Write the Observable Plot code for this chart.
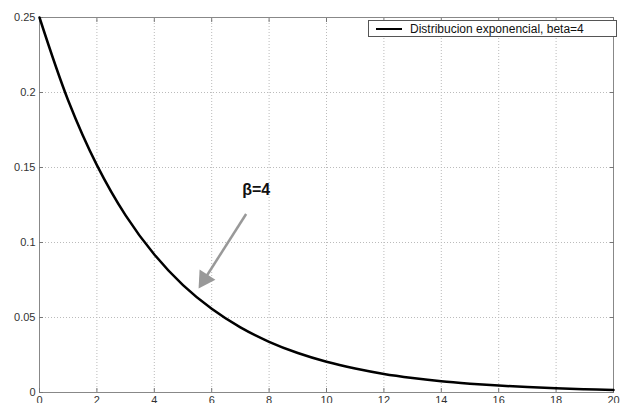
<!DOCTYPE html>
<html><head><meta charset="utf-8">
<script src="https://cdn.jsdelivr.net/npm/d3@7"></script>
<script src="https://cdn.jsdelivr.net/npm/@observablehq/plot@0.6"></script>
<style>
body{margin:0;background:#fff;}
#wrap{position:relative;width:621px;height:403px;overflow:hidden;font-family:"Liberation Sans",Arial,sans-serif;}
#legend{position:absolute;left:368px;top:20px;width:247px;height:15px;border:1px solid #555;background:#fff;font-size:12px;color:#111;display:flex;align-items:center;}
#legend .sw{width:26px;height:0;border-top:2px solid #000;margin:0 8px 0 7px;}
</style></head>
<body><div id="wrap"><div id="legend"><span class="sw"></span><span>Distribucion exponencial, beta=4</span></div></div>
<script>
const xs = [0,1,2,3,4,5,6,7,8,9,10,11,12,13,14,15,16,17,18,19,20];
const density = [0.25,0.1947,0.1516,0.1181,0.092,0.0716,0.0558,0.0434,0.0338,0.0263,0.0205,0.016,0.0124,0.0097,0.0075,0.0059,0.0046,0.0036,0.0028,0.0022,0.0017];
const xTicks = [0,2,4,6,8,10,12,14,16,18,20];
const yTicks = [0,0.05,0.1,0.15,0.2,0.25];
const yTickLabels = ["0","0.05","0.1","0.15","0.2","0.25"];
const annText = ["β=4"];
const annPos = [[7.55,0.135]];
const arrowFrom = [7.2,0.119];
const arrowHeadAt = [5.75,0.0755];
const arrowTip = [5.5,0.069];

const data = xs.map((x,i)=>({x, y: density[i]}));
const chart = Plot.plot({
  width: 621, height: 403,
  marginLeft: 39, marginRight: 8, marginTop: 17, marginBottom: 11,
  style: {fontFamily: '"Liberation Sans", Arial, sans-serif', fontSize: "11px", color: "#222", background: "#fff", overflow: "visible"},
  x: {domain: [0,20], ticks: xTicks, label: null},
  y: {domain: [0,0.25], ticks: yTicks, label: null, tickFormat: d => yTickLabels[yTicks.indexOf(d)] ?? d},
  marks: [
    Plot.gridX(xTicks, {stroke: "#bbb", strokeOpacity: 1, strokeDasharray: "1,2"}),
    Plot.gridY(yTicks, {stroke: "#bbb", strokeOpacity: 1, strokeDasharray: "1,2"}),
    Plot.frame({stroke: "#888"}),
    Plot.axisX(xTicks, {anchor: "bottom", tickSize: -4, stroke: "#777", tickPadding: 8, fontSize: 11, fill: "#333"}),
    Plot.axisX(xTicks, {anchor: "top", tickSize: -4, stroke: "#777", label: null, tickFormat: () => ""}),
    Plot.axisY(yTicks, {anchor: "left", tickSize: -4, stroke: "#777", tickPadding: 8, fontSize: 11, fill: "#333", tickFormat: d => yTickLabels[yTicks.indexOf(d)]}),
    Plot.axisY(yTicks, {anchor: "right", tickSize: -4, stroke: "#777", label: null, tickFormat: () => ""}),
    Plot.line(data, {x: "x", y: "y", stroke: "#000", strokeWidth: 2.5, curve: "catmull-rom"}),
    Plot.link([{x1: arrowFrom[0], y1: arrowFrom[1], x2: arrowHeadAt[0], y2: arrowHeadAt[1]}], {x1: "x1", y1: "y1", x2: "x2", y2: "y2", stroke: "#999", strokeWidth: 2.5}),
    Plot.dot([{x: arrowHeadAt[0], y: arrowHeadAt[1]}], {x: "x", y: "y", symbol: "triangle", r: 7, fill: "#999", stroke: "none", rotate: 213}),
    Plot.text(annText.map((t,i)=>({t, x: annPos[i][0], y: annPos[i][1]})), {x: "x", y: "y", text: "t", fontSize: 16, fontWeight: "bold", fill: "#111"})
  ]
});
document.getElementById("wrap").prepend(chart);
</script>
</body></html>
